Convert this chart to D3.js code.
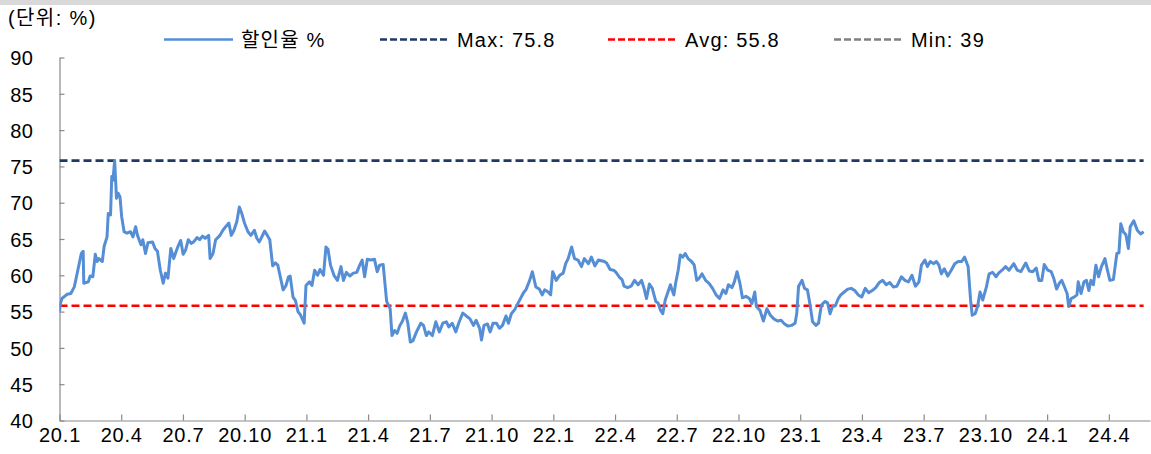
<!DOCTYPE html>
<html lang="ko">
<head>
<meta charset="utf-8">
<title>할인율 추이</title>
<script src="https://cdn.jsdelivr.net/npm/d3@7"></script>
<style>
  body { margin: 0; background: #fff; }
  svg text { font-family: "Liberation Sans", "Noto Sans CJK KR", sans-serif; fill: #000; }
</style>
</head>
<body>
<script>

// months since Jan 2020 (20.1 = 0)
var monthPos = [
  0.00, 0.05, 0.12, 0.38, 0.55, 0.72, 0.89, 1.06, 1.15, 1.18, 1.40, 1.49, 1.62, 1.74, 1.83, 1.91,
  2.08, 2.17, 2.31, 2.37, 2.48, 2.54, 2.60, 2.68, 2.77, 2.85, 2.94, 3.02, 3.14, 3.28, 3.45, 3.57,
  3.70, 3.79, 3.96, 4.05, 4.18, 4.30, 4.52, 4.64, 4.76, 4.90, 5.04, 5.15, 5.27, 5.41, 5.55, 5.67,
  5.79, 5.89, 6.01, 6.13, 6.26, 6.40, 6.52, 6.69, 6.81, 6.95, 7.08, 7.25, 7.32, 7.46, 7.59, 7.80,
  7.94, 8.11, 8.23, 8.35, 8.48, 8.62, 8.74, 8.86, 8.99, 9.16, 9.30, 9.47, 9.59, 9.71, 9.85, 9.97,
  10.10, 10.22, 10.36, 10.49, 10.61, 10.73, 10.87, 11.01, 11.13, 11.21, 11.35, 11.47, 11.59, 11.72, 11.89, 11.98,
  12.15, 12.27, 12.40, 12.54, 12.66, 12.83, 12.95, 13.05, 13.17, 13.34, 13.51, 13.68, 13.80, 13.94, 14.11, 14.28,
  14.45, 14.59, 14.71, 14.83, 14.96, 15.13, 15.31, 15.44, 15.56, 15.73, 15.90, 16.07, 16.16, 16.29, 16.41, 16.53,
  16.67, 16.81, 16.93, 17.05, 17.18, 17.35, 17.56, 17.69, 17.83, 17.95, 18.12, 18.29, 18.46, 18.63, 18.80, 18.92,
  19.09, 19.26, 19.40, 19.60, 19.77, 19.95, 20.12, 20.25, 20.42, 20.51, 20.63, 20.80, 20.93, 21.07, 21.24, 21.38,
  21.53, 21.70, 21.82, 21.96, 22.13, 22.33, 22.55, 22.67, 22.85, 22.98, 23.15, 23.32, 23.46, 23.58, 23.75, 23.87,
  23.97, 24.14, 24.31, 24.48, 24.60, 24.72, 24.89, 25.03, 25.20, 25.37, 25.51, 25.71, 25.85, 26.02, 26.19, 26.48,
  26.59, 26.76, 26.93, 27.05, 27.22, 27.34, 27.44, 27.61, 27.78, 27.95, 28.12, 28.29, 28.41, 28.53, 28.67, 28.81,
  28.98, 29.09, 29.21, 29.32, 29.44, 29.56, 29.69, 29.78, 29.86, 29.95, 30.07, 30.17, 30.29, 30.41, 30.55, 30.72,
  30.85, 30.97, 31.09, 31.23, 31.40, 31.57, 31.74, 31.91, 32.08, 32.25, 32.39, 32.51, 32.68, 32.80, 32.93, 33.07,
  33.19, 33.36, 33.53, 33.65, 33.79, 33.87, 34.04, 34.21, 34.38, 34.55, 34.72, 34.90, 35.07, 35.24, 35.41, 35.58,
  35.75, 35.83, 35.92, 36.09, 36.21, 36.35, 36.48, 36.60, 36.77, 36.89, 37.03, 37.20, 37.33, 37.45, 37.57, 37.71,
  37.85, 37.97, 38.14, 38.31, 38.48, 38.65, 38.82, 38.99, 39.16, 39.33, 39.50, 39.67, 39.84, 40.01, 40.18, 40.35,
  40.52, 40.70, 40.92, 41.09, 41.26, 41.43, 41.60, 41.77, 41.89, 42.06, 42.18, 42.32, 42.49, 42.62, 42.74, 42.86,
  43.00, 43.17, 43.34, 43.51, 43.68, 43.85, 43.99, 44.16, 44.28, 44.36, 44.50, 44.62, 44.74, 44.87, 45.05, 45.18,
  45.35, 45.52, 45.64, 45.81, 45.98, 46.15, 46.38, 46.55, 46.72, 46.96, 47.13, 47.30, 47.47, 47.60, 47.74, 47.86,
  48.03, 48.20, 48.32, 48.46, 48.59, 48.71, 48.83, 48.97, 49.05, 49.17, 49.31, 49.45, 49.51, 49.65, 49.79, 49.91,
  50.03, 50.13, 50.25, 50.37, 50.50, 50.64, 50.81, 50.93, 51.05, 51.22, 51.39, 51.49, 51.58, 51.70, 51.83, 51.95,
  52.04, 52.21, 52.38, 52.55, 52.69
];

// 할인율 (%)
var discountRate = [
  55.0, 56.2, 56.8, 57.4, 57.5, 58.4, 60.7, 63.0, 63.3, 58.9, 59.1, 59.9, 59.8, 62.9, 61.9, 62.3,
  61.9, 64.0, 65.3, 68.5, 68.3, 73.6, 73.1, 75.8, 70.6, 71.3, 70.8, 68.1, 66.0, 65.8, 66.0, 65.3,
  66.7, 65.5, 64.2, 64.9, 63.0, 64.5, 64.6, 63.7, 63.3, 60.7, 58.9, 60.3, 59.6, 63.7, 62.3, 63.3,
  64.2, 64.8, 62.9, 63.5, 64.9, 64.4, 64.6, 65.2, 64.9, 65.4, 65.1, 65.5, 62.3, 63.0, 64.9, 65.5,
  66.2, 66.8, 67.2, 65.5, 66.2, 67.4, 69.4, 68.5, 67.2, 66.0, 65.5, 66.2, 65.1, 64.6, 65.4, 66.1,
  65.5, 64.9, 61.3, 61.7, 61.4, 59.8, 58.0, 58.6, 59.8, 59.9, 57.0, 56.5, 55.0, 54.5, 53.4, 58.6,
  59.1, 58.6, 60.7, 60.0, 60.8, 60.0, 63.9, 63.6, 61.4, 60.0, 59.3, 61.2, 59.3, 60.4, 59.9, 60.3,
  60.4, 61.4, 62.1, 59.8, 62.2, 62.1, 62.2, 60.5, 61.4, 61.5, 56.4, 55.4, 51.7, 52.4, 52.0, 53.0,
  53.7, 54.8, 53.4, 50.8, 51.0, 52.2, 53.4, 53.1, 51.7, 52.2, 51.7, 53.6, 52.2, 53.4, 53.6, 52.9,
  53.4, 52.2, 53.4, 54.8, 54.4, 54.0, 53.1, 53.8, 52.7, 51.1, 53.1, 53.3, 52.2, 53.4, 53.4, 52.7,
  53.1, 54.4, 53.4, 54.7, 55.3, 56.4, 57.6, 58.0, 59.3, 60.5, 58.4, 58.1, 57.3, 58.0, 57.7, 57.3,
  60.5, 59.3, 60.0, 60.3, 61.6, 62.3, 63.9, 62.3, 62.1, 61.2, 62.3, 61.6, 62.5, 61.3, 62.1, 61.9,
  61.7, 60.8, 60.7, 60.4, 59.7, 59.4, 58.5, 58.3, 58.5, 59.3, 58.7, 59.3, 58.2, 56.8, 58.8, 58.2,
  56.4, 56.2, 55.2, 54.7, 56.6, 57.6, 58.7, 57.9, 57.3, 59.0, 60.7, 62.8, 62.5, 63.0, 62.3, 61.9,
  61.4, 59.3, 59.6, 60.2, 59.3, 58.9, 58.2, 57.3, 56.8, 58.0, 57.5, 58.7, 58.3, 59.1, 60.5, 58.9,
  56.9, 57.1, 56.8, 56.1, 57.7, 55.7, 55.2, 53.7, 55.4, 54.5, 54.0, 53.7, 53.8, 53.3, 53.0, 53.1,
  53.4, 54.7, 58.5, 59.3, 58.2, 58.0, 55.9, 53.6, 53.1, 53.4, 55.9, 56.4, 56.2, 54.7, 55.7, 55.8,
  56.8, 57.3, 57.7, 58.1, 58.2, 57.9, 57.3, 57.0, 58.2, 57.6, 57.9, 58.3, 59.0, 59.3, 58.7, 59.0,
  58.4, 58.5, 59.8, 59.3, 59.1, 60.0, 58.5, 59.1, 61.4, 62.1, 61.2, 61.9, 61.6, 61.9, 61.4, 60.2,
  60.9, 59.9, 60.7, 61.6, 61.9, 61.9, 62.5, 61.2, 56.6, 54.5, 54.7, 55.7, 57.7, 56.6, 58.4, 60.2,
  60.4, 59.8, 60.3, 60.7, 61.2, 60.7, 61.6, 60.7, 60.5, 61.7, 60.6, 60.5, 61.0, 59.3, 59.3, 61.5,
  60.7, 60.5, 59.6, 58.1, 58.9, 59.3, 58.5, 57.5, 55.7, 56.8, 57.0, 57.3, 59.1, 57.5, 59.1, 59.3,
  57.9, 59.3, 58.7, 61.4, 59.8, 61.2, 62.3, 60.7, 59.3, 59.4, 63.0, 63.1, 67.1, 66.0, 65.6, 63.7,
  66.7, 67.5, 66.2, 65.7, 66.0
];

var seriesName = "할인율 %";
var refNames = ["Max", "Avg", "Min"];
var refValues = [75.8, 55.8, 39];

var xTickMonths = [0, 3, 6, 9, 12, 15, 18, 21, 24, 27, 30, 33, 36, 39, 42, 45, 48, 51];
var xTickLabels = ["20.1", "20.4", "20.7", "20.10", "21.1", "21.4", "21.7", "21.10", "22.1",
                   "22.4", "22.7", "22.10", "23.1", "23.4", "23.7", "23.10", "24.1", "24.4"];
var yTicks = [40, 45, 50, 55, 60, 65, 70, 75, 80, 85, 90];

//Width and height
var w = 1151;
var h = 454;

var seriesColor = "#558ed5";
var refColors = ["#1f3864", "#ff0000", "#808080"];
var axisColor = "#8a8a8a";

var x = d3.scaleLinear()
          .domain([0, 53])
          .range([59.5, 1150]);

var y = d3.scaleLinear()
          .domain([40, 90])
          .range([420.5, 57.5]);

var svg = d3.select("body")
            .append("svg")
            .attr("width", w)
            .attr("height", h);

// grey strip on top
svg.append("rect")
   .attr("x", 0)
   .attr("y", 0)
   .attr("width", w)
   .attr("height", 5)
   .attr("fill", "#d9d9d9");

// unit label
svg.append("text")
   .attr("x", 8)
   .attr("y", 25)
   .attr("font-size", "20px")
   .attr("letter-spacing", "1.4px")
   .text("(단위: %)");

svg.append("clipPath")
   .attr("id", "plotClip")
   .append("rect")
   .attr("x", x(0))
   .attr("y", y(90))
   .attr("width", x(53) - x(0))
   .attr("height", y(40) - y(90));

//Y axis
var yAxis = d3.axisLeft(y)
              .tickValues(yTicks)
              .tickSizeInner(-5)
              .tickSizeOuter(0)
              .tickPadding(26);

var gy = svg.append("g")
            .attr("transform", "translate(" + x(0) + ",0)")
            .call(yAxis);

gy.selectAll("text")
  .attr("font-size", "20px")
  .attr("letter-spacing", "0.5px")
  .attr("dy", "0.36em");

//X axis
var xAxis = d3.axisBottom(x)
              .tickValues(xTickMonths)
              .tickFormat(function(d, i) { return xTickLabels[i]; })
              .tickSizeInner(-6)
              .tickSizeOuter(0)
              .tickPadding(7);

var gx = svg.append("g")
            .attr("transform", "translate(0," + y(40) + ")")
            .call(xAxis);

gx.selectAll("text")
  .attr("font-size", "20px")
  .attr("letter-spacing", "0.8px");

svg.selectAll(".domain, .tick line")
   .attr("stroke", axisColor)
   .attr("stroke-width", 1.2);

// reference lines (Max / Avg / Min)
var lastMonth = monthPos[monthPos.length - 1];

svg.append("g")
   .attr("clip-path", "url(#plotClip)")
   .selectAll("line")
   .data(refValues)
   .enter()
   .append("line")
   .attr("x1", x(0))
   .attr("x2", x(lastMonth))
   .attr("y1", function(d) { return y(d); })
   .attr("y2", function(d) { return y(d); })
   .attr("stroke", function(d, i) { return refColors[i]; })
   .attr("stroke-width", 2.6)
   .attr("stroke-dasharray", "8,4");

// discount rate line
var line = d3.line()
             .x(function(i) { return x(monthPos[i]); })
             .y(function(i) { return y(discountRate[i]); });

svg.append("path")
   .datum(d3.range(monthPos.length))
   .attr("clip-path", "url(#plotClip)")
   .attr("d", line)
   .attr("fill", "none")
   .attr("stroke", seriesColor)
   .attr("stroke-width", 3)
   .attr("stroke-linejoin", "round");

// legend
var legendItems = [{ label: seriesName, color: seriesColor, dash: null }];
refNames.forEach(function(n, i) {
  legendItems.push({ label: n + ": " + refValues[i], color: refColors[i], dash: "7,3" });
});
var legendX = [164, 380, 608, 834];

var lg = svg.selectAll(".legend")
            .data(legendItems)
            .enter()
            .append("g")
            .attr("class", "legend")
            .attr("transform", function(d, i) { return "translate(" + legendX[i] + ",39.5)"; });

lg.append("line")
  .attr("x1", 0)
  .attr("x2", 69)
  .attr("stroke", function(d) { return d.color; })
  .attr("stroke-width", 2.6)
  .attr("stroke-dasharray", function(d) { return d.dash; });

lg.append("text")
  .attr("x", 77)
  .attr("y", 7.2)
  .attr("font-size", "20px")
  .attr("letter-spacing", "1.2px")
  .text(function(d) { return d.label; });

</script>
</body>
</html>
